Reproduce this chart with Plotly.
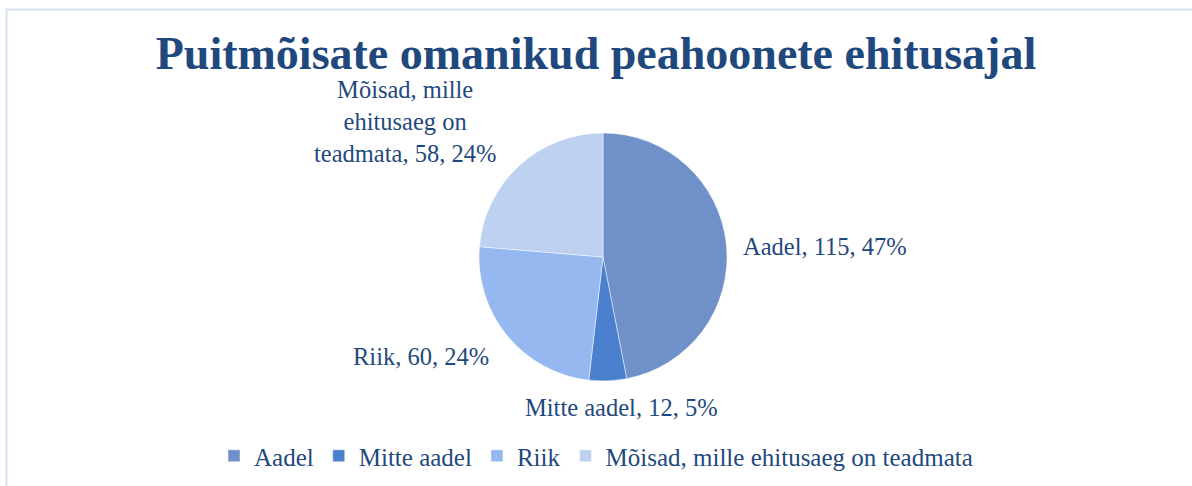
import plotly.graph_objects as go

# Data
categories = ["Aadel", "Mitte aadel", "Riik", "Mõisad, mille ehitusaeg on teadmata"]
values = [115, 12, 60, 58]
colors = ["#6F90C9", "#4A80CE", "#95B8F0", "#BED1F1"]
title_text = "Puitmõisate omanikud peahoonete ehitusajal"

W, H = 1192, 486
text_color = "#1F497D"
font_family = "Liberation Serif"

total = sum(values)
pcts = [round(v / total * 100) for v in values]

fig = go.Figure()
fig.add_trace(go.Pie(
    labels=categories,
    values=values,
    sort=False,
    direction="clockwise",
    rotation=0,
    textinfo="none",
    hoverinfo="label+value+percent",
    marker=dict(colors=colors, line=dict(color="rgba(255,255,255,0.6)", width=0.8)),
    domain=dict(x=[479 / W, 727 / W], y=[1 - 381 / H, 1 - 133 / H]),
    showlegend=True,
))

# data labels (text built from the data)
label_texts = [f"{c}, {v}, {p}%" for c, v, p in zip(categories, values, pcts)]
label_texts[3] = f"Mõisad, mille<br>ehitusaeg on<br>teadmata, {values[3]}, {pcts[3]}%"
label_pos = [
    dict(x=741, y=247, xanchor="left", yanchor="middle", align="left"),
    dict(x=621, y=407, xanchor="center", yanchor="middle", align="center"),
    dict(x=491, y=356, xanchor="right", yanchor="middle", align="right"),
    dict(x=405, y=121, xanchor="center", yanchor="middle", align="center"),
]
for t, p in zip(label_texts, label_pos):
    fig.add_annotation(
        x=p["x"] / W, y=1 - p["y"] / H, xref="paper", yref="paper",
        text=t, showarrow=False, xanchor=p["xanchor"], yanchor=p["yanchor"], align=p["align"],
        font=dict(family=font_family, size=24.5, color=text_color),
    )

# chart frame
fig.add_shape(type="rect", xref="paper", yref="paper",
              x0=6.5 / W, y0=-0.05, x1=1.05, y1=1 - 9.5 / H,
              line=dict(color="#D5E0F0", width=2), fillcolor="rgba(0,0,0,0)", layer="below")

fig.update_layout(
    width=W, height=H,
    margin=dict(l=0, r=0, t=0, b=0),
    paper_bgcolor="white",
    plot_bgcolor="white",
    title=dict(text=f"<b>{title_text}</b>", x=0.5, xanchor="center", y=1 - 53 / H, yanchor="middle",
               font=dict(family=font_family, size=46, color=text_color)),
    legend=dict(orientation="h", x=0.5, xanchor="center", y=1 - 456 / H, yanchor="middle",
                font=dict(family=font_family, size=25, color=text_color),
                bgcolor="rgba(0,0,0,0)", itemclick=False),
)

fig.write_html("out.html", config={"displayModeBar": False},
               post_script="document.body.style.margin='0';document.body.style.overflow='hidden';")
